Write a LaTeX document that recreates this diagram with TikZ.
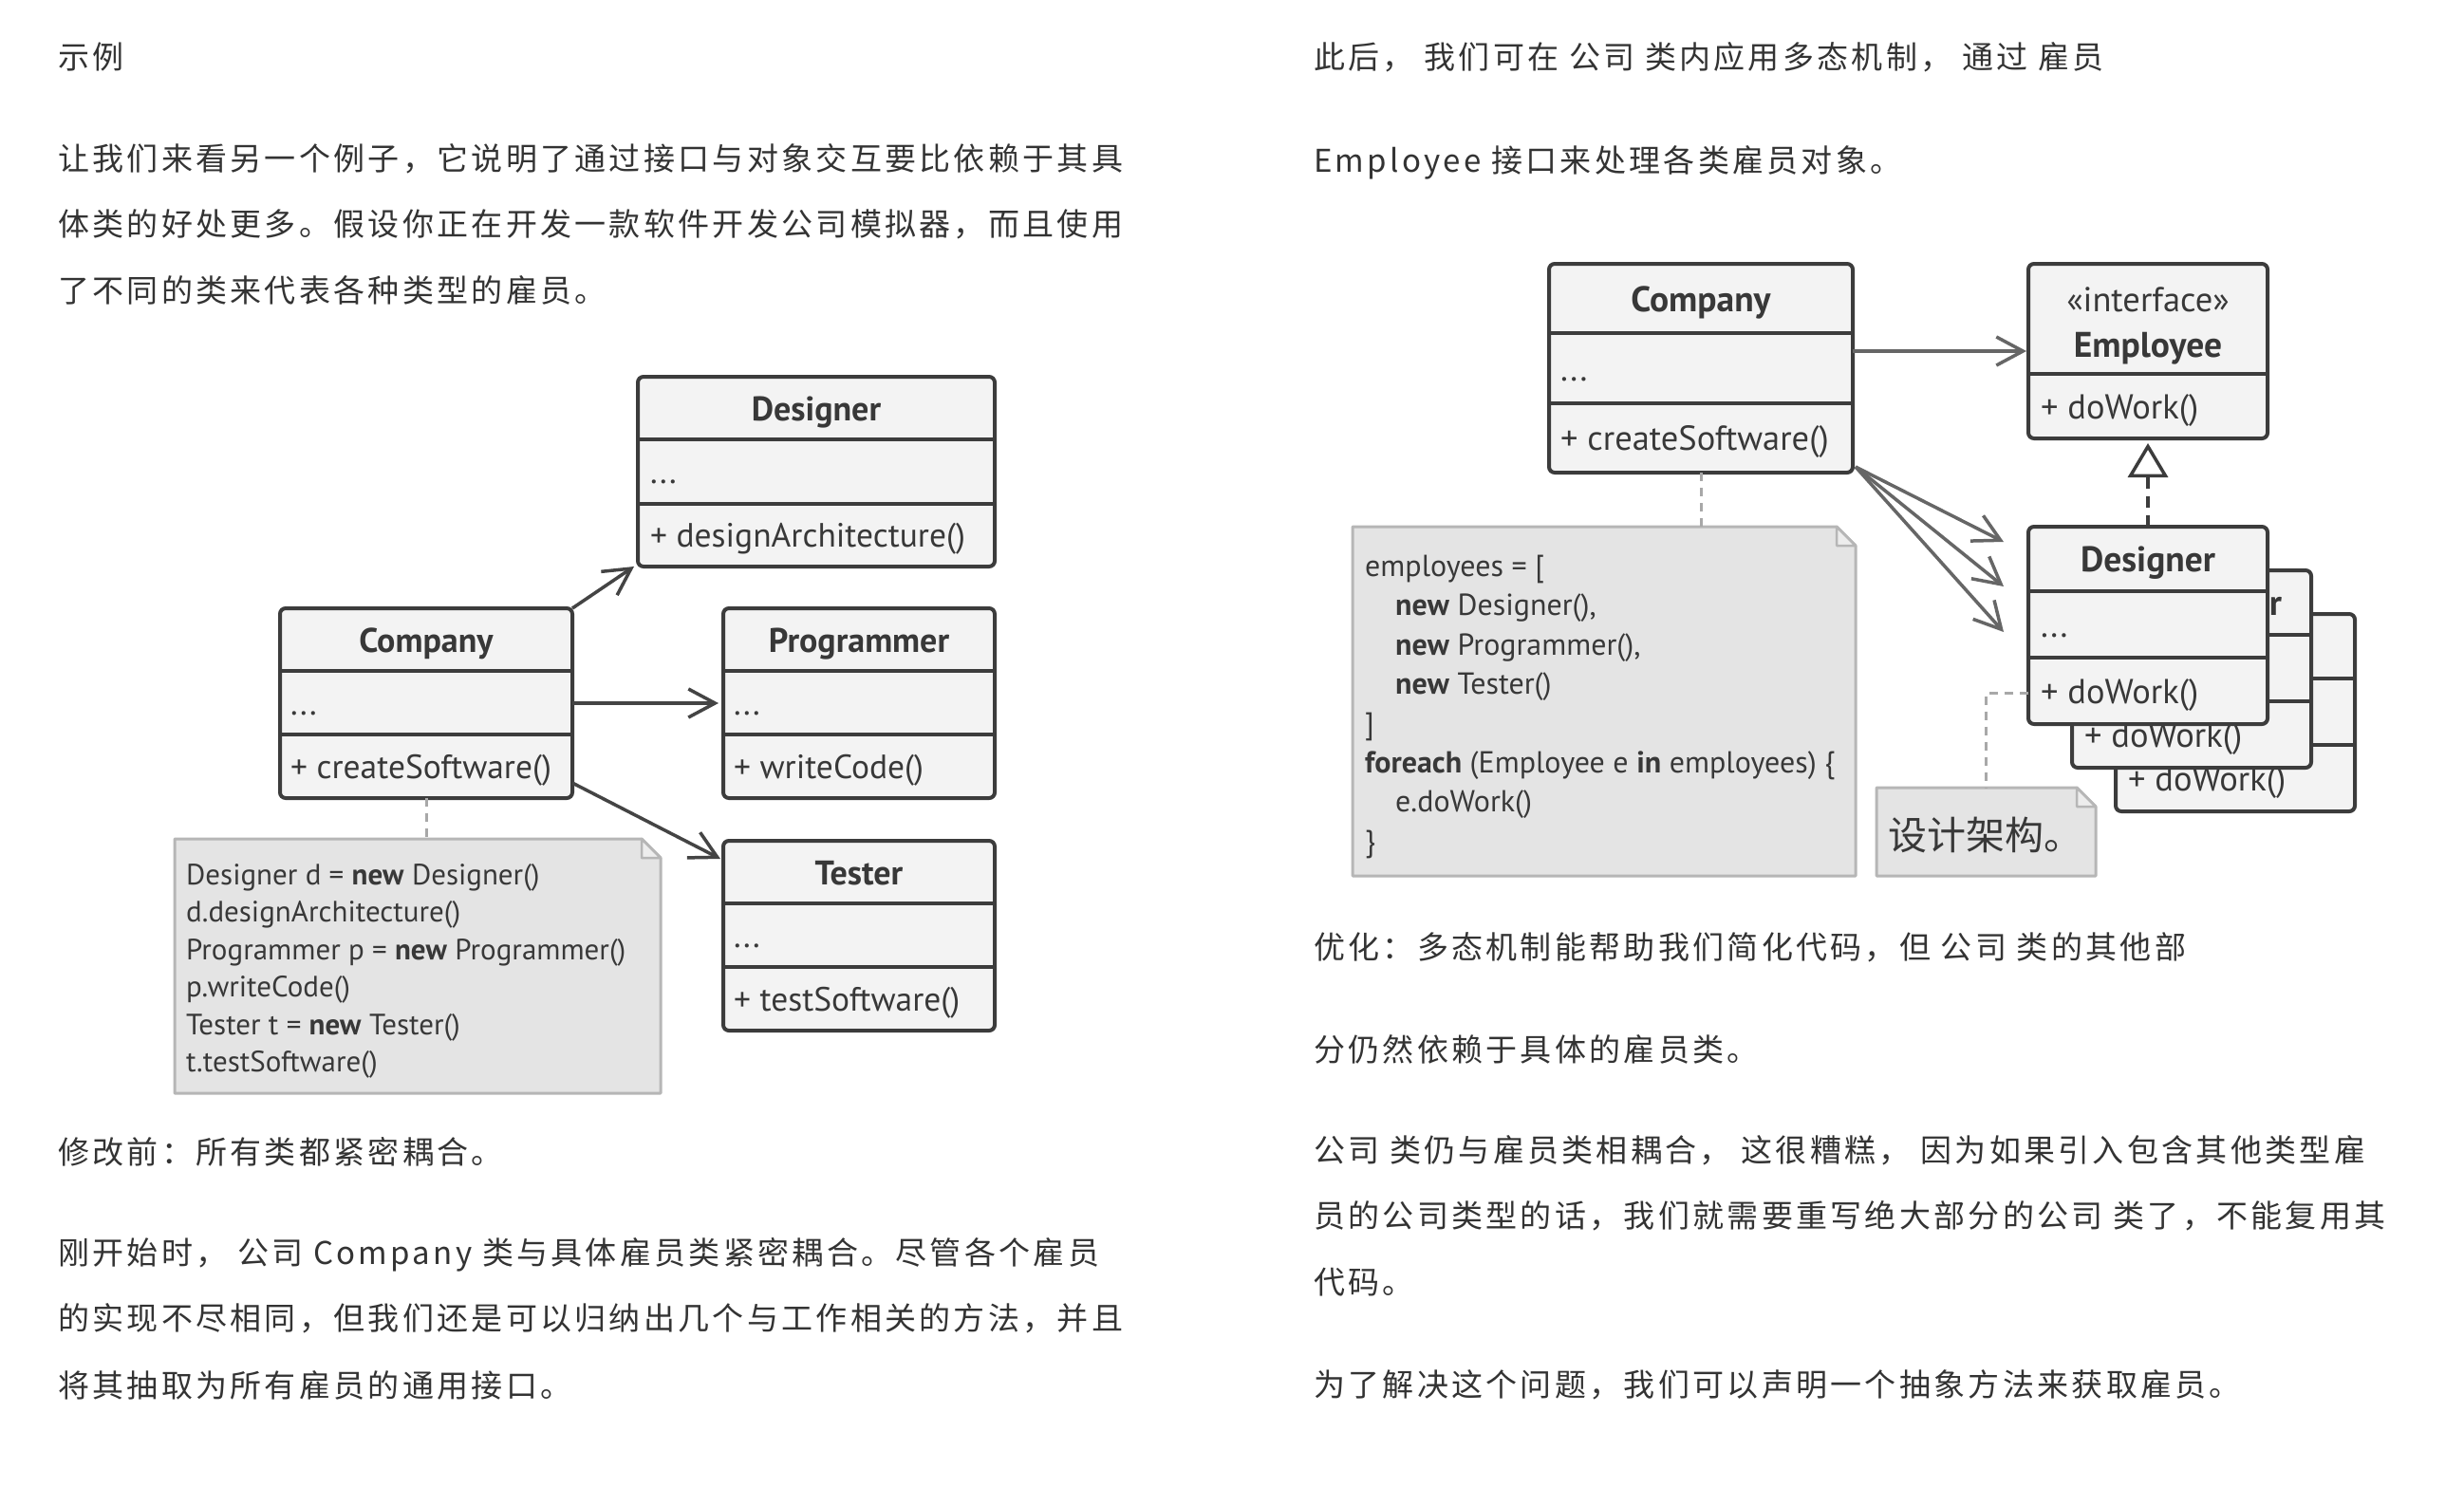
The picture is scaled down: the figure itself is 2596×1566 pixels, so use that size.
\documentclass[tikz,border=0pt]{standalone}
\usepackage{fontspec}
\usetikzlibrary{arrows.meta}
\newfontfamily\cjk{Noto Sans CJK SC}[LetterSpace=10]
\newfontfamily\cjkn{Noto Sans CJK SC}
\newfontfamily\pts{PT Sans}
\definecolor{txt}{HTML}{333333}
\definecolor{dtx}{HTML}{383838}
\definecolor{boxc}{HTML}{3C3C3C}
\definecolor{boxf}{HTML}{F3F3F3}
\definecolor{notef}{HTML}{E4E4E4}
\definecolor{notec}{HTML}{B6B6B6}
\definecolor{foldf}{HTML}{EDEDED}
\definecolor{linkc}{HTML}{A8A8A8}
\definecolor{arrc}{HTML}{444444}
\definecolor{arrg}{HTML}{666666}
\tikzset{
  body/.style={font=\cjk\fontsize{33}{33}\selectfont, text=txt, anchor=base west, inner sep=0pt},
  classbox/.style={draw=boxc, fill=boxf, line width=4pt, rounded corners=6pt, inner sep=0pt, outer sep=0pt},
  divline/.style={draw=boxc, line width=4pt},
  ltitle/.style={font=\pts\bfseries\fontsize{36}{36}\selectfont, text=dtx, anchor=base, inner sep=0pt},
  lmem/.style={font=\pts\fontsize{35.5}{35.5}\selectfont, text=dtx, anchor=base west, inner sep=0pt},
  rtitle/.style={font=\pts\bfseries\fontsize{37.5}{37.5}\selectfont, text=dtx, anchor=base, inner sep=0pt},
  rstereo/.style={font=\pts\fontsize{36.5}{36.5}\selectfont, text=dtx, anchor=base, inner sep=0pt},
  rmem/.style={font=\pts\fontsize{36.5}{36.5}\selectfont, text=dtx, anchor=base west, inner sep=0pt},
  lntext/.style={font=\pts\fontsize{31}{31}\selectfont, text=dtx, anchor=base west, inner sep=0pt},
  rntext/.style={font=\pts\fontsize{32}{32}\selectfont, text=dtx, anchor=base west, inner sep=0pt},
  notest/.style={fill=notef, draw=notec, line width=3pt, line join=round},
  foldst/.style={fill=foldf, draw=notec, line width=2.5pt, line join=round},
  notelink/.style={draw=linkc, line width=3pt, dash pattern=on 9pt off 7pt},
  assoc/.style={draw=arrc, line width=3.5pt, -{Straight Barb[length=28pt,width=30pt]}},
  assocg/.style={draw=arrg, line width=3.5pt, -{Straight Barb[length=28pt,width=30pt]}},
  realize/.style={draw=boxc, line width=3.5pt, dash pattern=on 12pt off 8pt, -{Triangle[length=36pt,width=42pt,fill=white]}},
}
\newcommand\umlbox[7]{%
  \node[classbox, minimum width={(#4)-(#2)}, minimum height={(#5)-(#3)}] (#1) at ({((#2)+(#4))/2},{((#3)+(#5))/2}) {};
  \draw[divline] (#2,#6) -- (#4,#6);
  \draw[divline] (#2,#7) -- (#4,#7);
}
\newcommand\notebox[5]{%
  \node[inner sep=0pt, outer sep=0pt, minimum width={(#4)-(#2)}, minimum height={(#5)-(#3)}] (#1) at ({((#2)+(#4))/2},{((#3)+(#5))/2}) {};
  \filldraw[notest] (#2,#3) -- ({(#4)-20},#3) -- (#4,{(#3)+20}) -- (#4,#5) -- (#2,#5) -- cycle;
  \filldraw[foldst] ({(#4)-20},#3) -- ({(#4)-20},{(#3)+20}) -- (#4,{(#3)+20}) -- cycle;
}
\begin{document}
\begin{tikzpicture}[x=1pt,y=-1pt]
\fill[white] (0,0) rectangle (2596,1566);
\useasboundingbox (0,0) rectangle (2596,1566);

% ---------- body text, left column ----------
\node[body] (t1) at (61,72) {示例};
\node[body] (t2) at (61,179) {让我们来看另一个例子，它说明了通过接口与对象交互要比依赖于其具};
\node[body] (t3) at (61,248) {体类的好处更多。假设你正在开发一款软件开发公司模拟器，而且使用};
\node[body] (t4) at (61,318) {了不同的类来代表各种类型的雇员。};
\node[body] (t5) at (61,1226) {修改前：所有类都紧密耦合。};
\node[body] (t6) at (61,1332) {刚开始时， 公司 Company 类与具体雇员类紧密耦合。尽管各个雇员};
\node[body] (t7) at (61,1401) {的实现不尽相同，但我们还是可以归纳出几个与工作相关的方法，并且};
\node[body] (t8) at (61,1472) {将其抽取为所有雇员的通用接口。};

% ---------- body text, right column ----------
\node[body] (r1) at (1384,72) {此后， 我们可在 公司 类内应用多态机制， 通过 雇员};
\node[body] (r2) at (1384,181) {Employee 接口来处理各类雇员对象。};
\node[body] (r3) at (1384,1010) {优化：多态机制能帮助我们简化代码，但 公司 类的其他部};
\node[body] (r4) at (1384,1118) {分仍然依赖于具体的雇员类。};
\node[body] (r5) at (1384,1224) {公司 类仍与雇员类相耦合， 这很糟糕， 因为如果引入包含其他类型雇};
\node[body] (r6) at (1384,1293) {员的公司类型的话，我们就需要重写绝大部分的公司 类了，不能复用其};
\node[body] (r7) at (1384,1363) {代码。};
\node[body] (r8) at (1384,1471) {为了解决这个问题，我们可以声明一个抽象方法来获取雇员。};

% ---------- left diagram ----------
\umlbox{ld}{672}{397}{1048}{597}{463}{531}
\node[ltitle] (ld-t) at (860,443) {Designer};
\node[lmem] (ld-a) at (685,509.5) {...};
\node[lmem] (ld-m) at (685,576.5) {+ designArchitecture()};

\umlbox{lc}{295}{641}{603}{841}{707}{774}
\node[ltitle] (lc-t) at (449,687) {Company};
\node[lmem] (lc-a) at (306,753) {...};
\node[lmem] (lc-m) at (306,820) {+ createSoftware()};

\umlbox{lp}{762}{641}{1048}{841}{707}{774}
\node[ltitle] (lp-t) at (905,687) {Programmer};
\node[lmem] (lp-a) at (773,753) {...};
\node[lmem] (lp-m) at (773,820) {+ writeCode()};

\umlbox{lt}{762}{886}{1048}{1086}{952}{1019}
\node[ltitle] (lt-t) at (905,932) {Tester};
\node[lmem] (lt-a) at (773,998) {...};
\node[lmem] (lt-m) at (773,1065) {+ testSoftware()};

\notebox{ln}{184}{884}{696}{1152}
\node[lntext] (ln1) at (196,932) {Designer d = \textbf{new} Designer()};
\node[lntext] (ln2) at (196,971.5) {d.designArchitecture()};
\node[lntext] (ln3) at (196,1011) {Programmer p = \textbf{new} Programmer()};
\node[lntext] (ln4) at (196,1050.5) {p.writeCode()};
\node[lntext] (ln5) at (196,1090) {Tester t = \textbf{new} Tester()};
\node[lntext] (ln6) at (196,1129.5) {t.testSoftware()};

\draw[notelink] (lc.south) -- (lc.south |- ln.north);
\draw[assoc] (lc.north east) -- ([xshift=-4pt]ld.south west);
\draw[assoc] (lc.east) -- ([xshift=-5pt]lp.west);
\draw[assoc] ([yshift=-84pt]lc.east) -- ([xshift=-3pt,yshift=-19pt]lt.north west);

% ---------- right diagram ----------
\umlbox{rc}{1632}{278}{1952}{498}{351}{425}
\node[rtitle] (rc-t) at (1792,328) {Company};
\node[rmem] (rc-a) at (1644,401) {...};
\node[rmem] (rc-m) at (1644,474.5) {+ createSoftware()};

\node[classbox, minimum width=252, minimum height=184] (re) at (2263,370) {};
\draw[divline] (2137,394) -- (2389,394);
\node[rstereo] (re-s) at (2263,328) {«interface»};
\node[rtitle] (re-t) at (2263,376.5) {Employee};
\node[rmem] (re-m) at (2150,441) {+ doWork()};

\umlbox{rt}{2229}{647}{2481}{855}{715}{785}
\node[rmem] (rt-m) at (2242,833) {+ doWork()};

\umlbox{rp}{2183}{601}{2435}{809}{669}{739}
\node[rtitle] (rp-t) at (2305,648.5) {Programmer};
\node[rmem] (rp-m) at (2196,787) {+ doWork()};

\umlbox{rd}{2137}{555}{2389}{763}{623}{693}
\node[rtitle] (rd-t) at (2263,602.5) {Designer};
\node[rmem] (rd-a) at (2150,671) {...};
\node[rmem] (rd-m) at (2150,741) {+ doWork()};

\notebox{rn}{1425}{555}{1955}{923}
\node[rntext] (rn1) at (1438,607) {employees = [};
\node[rntext] (rn2) at (1470,648) {\textbf{new} Designer(),};
\node[rntext] (rn3) at (1470,690) {\textbf{new} Programmer(),};
\node[rntext] (rn4) at (1470,731) {\textbf{new} Tester()};
\node[rntext] (rn5) at (1438,773) {]};
\node[rntext] (rn6) at (1438,814) {\textbf{foreach} (Employee e \textbf{in} employees) \{};
\node[rntext] (rn7) at (1470,855) {e.doWork()};
\node[rntext] (rn8) at (1438,897) {\}};

\notebox{sn}{1977}{830}{2208}{923}
\node[font=\cjkn\fontsize{41}{41}\selectfont, text=dtx, anchor=base west, inner sep=0pt] (sn-t) at (1989,895) {设计架构。};

\draw[notelink] (rc.south) -- (rc.south |- rn.north);
\draw[notelink] ([yshift=-71pt]rd.west) -| (sn.north);
\draw[assocg] (rc.east |- re.west) -- ([xshift=-2pt]re.west);
\draw[assocg] ([xshift=3pt,yshift=6pt]rc.south east) -- ([xshift=-26pt,yshift=-16pt]rd.north west);
\draw[assocg] ([xshift=3pt,yshift=6pt]rc.south east) -- ([xshift=-26pt,yshift=-63pt]rd.north west);
\draw[assocg] ([xshift=3pt,yshift=6pt]rc.south east) -- ([xshift=-26pt,yshift=-111pt]rd.north west);
\draw[realize] (rd.north) -- ([yshift=-5pt]re.south);
\end{tikzpicture}
\end{document}
